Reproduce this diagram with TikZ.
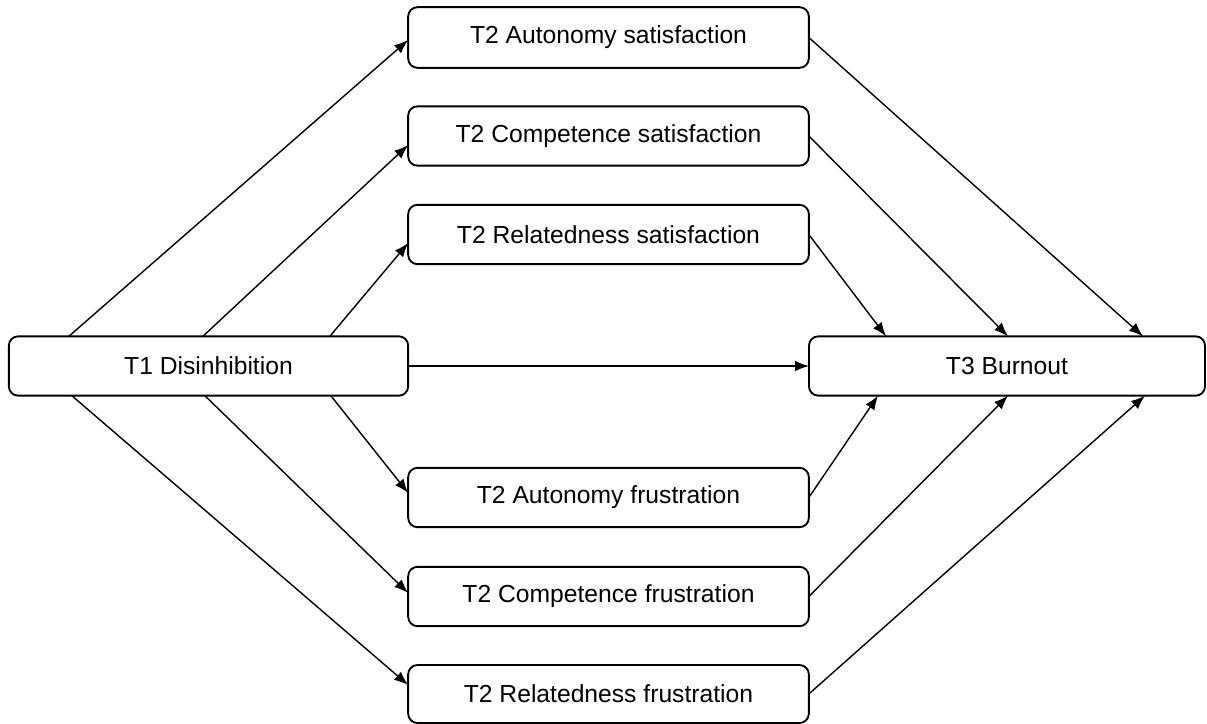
\documentclass[tikz,border=0pt]{standalone}
\usepackage{fontspec}
\setmainfont{Liberation Sans}
\usepackage{tikz}
\usetikzlibrary{positioning,arrows.meta,calc}

\begin{document}
\begin{tikzpicture}[
            x = 0.75pt, y = -0.75pt,
            every node/.append style = {font = \fontsize{18.5}{22}\selectfont},
            box/.style = {draw, line width = 1.4pt, rounded corners = 7pt, inner sep = 0pt, outer sep = 0pt,
                minimum width = 300.5pt, minimum height = 44.5pt},
            path/.style = {line width = 1.05pt, -{Latex[length = 10.5pt, width = 8pt]}}]
            \useasboundingbox (0,0) rectangle (1207,724);
            \node[box, minimum width = 299.5pt] (tone) at (208.5,366) {T1 Disinhibition};
            \node[box, minimum width = 297pt] (tthree) at (1007,366) {T3 Burnout};
            \node[box, minimum height = 45.5pt] (asat) at (608.5,37.5) {T2 Autonomy satisfaction};
            \node[box] (csat) at (608.5,136) {T2 Competence satisfaction};
            \node[box] (rsat) at (608.5,234.5) {T2 Relatedness satisfaction};
            \node[box] (afru) at (608.5,497.5) {T2 Autonomy frustration};
            \node[box] (cfru) at (608.5,596.5) {T2 Competence frustration};
            \node[box, minimum height = 43.5pt] (rfru) at (608.5,694) {T2 Relatedness frustration};
            \draw[path] ($(tone.north west)+(60,0)$) -- ($(asat.west)+(0,2.5)$);
            \draw[path] ($(tone.north west)+(194,0)$) -- ($(csat.west)+(0,9)$);
            \draw[path] ($(tone.north west)+(321,0)$) -- ($(rsat.west)+(0,8.5)$);
            \draw[path] ($(tone.south west)+(63,0)$) -- ($(rfru.west)+(0,-9)$);
            \draw[path] ($(tone.south west)+(196,0)$) -- ($(cfru.west)+(0,-3.5)$);
            \draw[path] ($(tone.south west)+(322,0)$) -- ($(afru.west)+(0,-4.5)$);
            \draw[path] (tone.east) -- (tthree.west);
            \draw[path] (asat.east) -- ($(tthree.north west)+(334,0)$);
            \draw[path] (csat.east) -- ($(tthree.north west)+(199,0)$);
            \draw[path] (rsat.east) -- ($(tthree.north west)+(77,0)$);
            \draw[path] (afru.east) -- ($(tthree.south west)+(69,0)$);
            \draw[path] (cfru.east) -- ($(tthree.south west)+(199,0)$);
            \draw[path] (rfru.east) -- ($(tthree.south west)+(336,0)$);
        \end{tikzpicture}
\end{document}
